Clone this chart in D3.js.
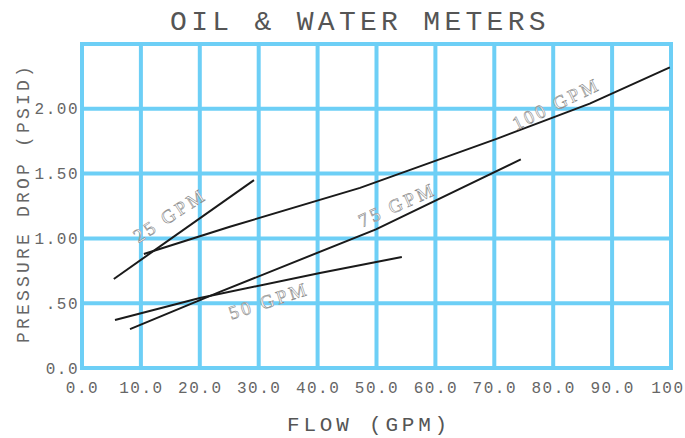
<!DOCTYPE html>
<html><head><meta charset="utf-8">
<script src="https://cdn.jsdelivr.net/npm/d3@7/dist/d3.min.js"></script>
<style>html,body{margin:0;padding:0;background:#fff}</style>
</head><body>
<svg id="c" width="685" height="438"></svg>
<script>
const xTicks = [0,10,20,30,40,50,60,70,80,90,100];
const xTickLabels = ["0.0","10.0","20.0","30.0","40.0","50.0","60.0","70.0","80.0","90.0","100"];
const yTicks = [0,0.5,1.0,1.5,2.0];
const yTickLabels = ["0.0",".50","1.00","1.50","2.00"];
const seriesNames = ["25 GPM","50 GPM","75 GPM","100 GPM"];
const gpm25 = [[5.4,0.687],[29.2,1.45]];
const gpm50 = [[5.6,0.37],[20,0.54],[40.4,0.733],[54.3,0.857]];
const gpm75 = [[8.15,0.30],[23.4,0.587],[49.9,1.07],[74.5,1.61]];
const gpm100 = [[10.5,0.88],[25.1,1.09],[47.2,1.39],[70.5,1.77],[86.2,2.04],[99.8,2.32]];
const labelAnchors = [[14.9,1.18,-33],[31.7,0.52,-18],[53.5,1.26,-24],[80.5,2.04,-26]];

const svg = d3.select("#c");
const x = d3.scaleLinear().domain([0,100]).range([82,671]);
const y = d3.scaleLinear().domain([0,2.5]).range([368,44]);
const grid = "#6dcff6";
const mono = "'Liberation Mono', 'DejaVu Sans Mono', monospace";

// grid
const g = svg.append("g");
g.selectAll("line.v").data(xTicks).join("line")
  .attr("x1",d=>x(d)).attr("x2",d=>x(d)).attr("y1",y(2.5)).attr("y2",y(0))
  .attr("stroke",grid).attr("stroke-width",4);
g.selectAll("line.h").data([0,0.5,1,1.5,2,2.5]).join("line")
  .attr("y1",d=>y(d)).attr("y2",d=>y(d)).attr("x1",x(0)-2).attr("x2",x(100)+2)
  .attr("stroke",grid).attr("stroke-width",4);

// axes
const xAxis = d3.axisBottom(x).tickValues(xTicks).tickSize(0).tickPadding(0)
  .tickFormat((d,i)=>xTickLabels[i]);
const xa = svg.append("g").attr("transform","translate(0,382)").call(xAxis);
xa.select(".domain").remove();
xa.selectAll("text").attr("font-family",mono).attr("font-size",16).attr("fill","#666")
  .attr("letter-spacing",1.5).attr("dy","0.71em");
xa.selectAll("text").filter((d,i)=>i===xTicks.length-1)
  .attr("text-anchor","end").attr("dx",13);

const yAxis = d3.axisLeft(y).tickValues(yTicks).tickSize(0).tickPadding(0)
  .tickFormat((d,i)=>yTickLabels[i]);
const ya = svg.append("g").attr("transform","translate(79,0)").call(yAxis);
ya.select(".domain").remove();
ya.selectAll("text").attr("font-family",mono).attr("font-size",16).attr("fill","#666")
  .attr("letter-spacing",1.5);

// lines
const line = d3.line().x(d=>x(d[0])).y(d=>y(d[1]));
svg.append("g").selectAll("path").data([gpm25,gpm50,gpm75,gpm100]).join("path")
  .attr("d",line).attr("fill","none").attr("stroke","#1a1a1a").attr("stroke-width",2);

// series labels
svg.append("g").selectAll("text").data(seriesNames).join("text")
  .attr("transform",(d,i)=>`translate(${x(labelAnchors[i][0])},${y(labelAnchors[i][1])}) rotate(${labelAnchors[i][2]})`)
  .attr("text-anchor","middle").attr("dy","0.35em")
  .attr("font-family","'Liberation Serif', serif").attr("font-size",19)
  .attr("letter-spacing",3)
  .attr("fill","#fff").attr("stroke","#8a8a8a").attr("stroke-width",0.6)
  .text(d=>d);

// title
svg.append("text").attr("x",360).attr("y",30).attr("text-anchor","middle")
  .attr("font-family",mono).attr("font-size",28).attr("letter-spacing",4.3)
  .attr("fill","#555").text("OIL & WATER METERS");

// x title
svg.append("text").attr("x",369).attr("y",431).attr("text-anchor","middle")
  .attr("font-family",mono).attr("font-size",21).attr("letter-spacing",3.8)
  .attr("fill","#555").text("FLOW (GPM)");

// y title
svg.append("text").attr("transform","translate(29,203) rotate(-90)").attr("text-anchor","middle")
  .attr("font-family",mono).attr("font-size",18).attr("letter-spacing",3.2)
  .attr("fill","#666").text("PRESSURE DROP (PSID)");
</script>
</body></html>
